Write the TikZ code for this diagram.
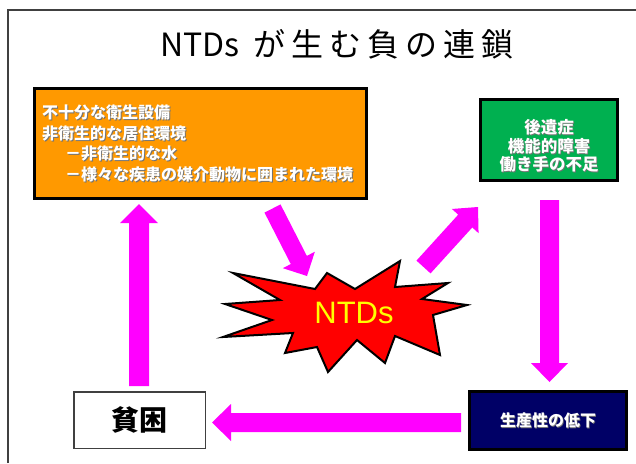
\documentclass[tikz,border=0pt]{standalone}
\usepackage{fontspec}
\newfontfamily\jp{Noto Sans CJK JP}
\newfontfamily\arialfont{Liberation Sans}
\usetikzlibrary{calc}
\definecolor{ppOrange}{HTML}{FF9900}
\definecolor{ppGreen}{HTML}{00B050}
\definecolor{ppNavy}{HTML}{000066}
\definecolor{ppMagenta}{HTML}{FF00FF}
\definecolor{ppRed}{HTML}{FF0000}
\definecolor{ppYellow}{HTML}{FFFF00}
\definecolor{ppFrame}{HTML}{404040}
\newcommand\shtxt[1]{\leavevmode\rlap{\kern0.9pt\raisebox{-0.9pt}{\color{black!55}#1}}#1}
\newcommand\blockarrow[5]{%
  \coordinate (hb) at ($(#2)!#5!(#1)$);
  \fill[arrowfill] ($(#1)!#3!90:(#2)$) -- ($(hb)!#3!90:(#2)$) -- ($(hb)!#4!90:(#2)$) -- (#2)
     -- ($(hb)!#4!-90:(#2)$) -- ($(hb)!#3!-90:(#2)$) -- ($(#1)!#3!-90:(#2)$) -- cycle;
}
\begin{document}
\begin{tikzpicture}[x=1pt,y=-1pt,
  arrowfill/.style={fill=ppMagenta},
  boxline/.style={draw=black,line width=3pt},
  whitetext/.style={text=white,inner sep=0pt,font=\jp\bfseries\fontsize{16}{20.7}\selectfont},
]
\useasboundingbox (0,0) rectangle (636,463);
% frame
\draw[ppFrame,line width=2pt] (7.5,463) -- (7.5,9.5) -- (636,9.5);
% title
\node[inner sep=0pt,font=\jp\fontsize{32}{32}\selectfont] (title) at (337,44)
  {NTDs\hspace{14pt}が\kern6pt 生\kern6pt む\kern6pt 負\kern6pt の\kern6pt 連\kern6pt 鎖};
% boxes
\node[boxline,fill=ppOrange,minimum width=332pt,minimum height=110pt,inner sep=0pt] (causes) at (200.5,143.5) {};
\node[whitetext,anchor=west,align=left] (causesText) at (42,144)
  {\shtxt{不十分な衛生設備}\\\shtxt{非衛生的な居住環境}\\\hspace*{23pt}\shtxt{－非衛生的な水}\\\hspace*{23pt}\shtxt{－様々な疾患の媒介動物に囲まれた環境}};
\node[boxline,fill=ppGreen,minimum width=137pt,minimum height=81pt,inner sep=0pt] (effects) at (549,140) {};
\node[whitetext,align=center,font=\jp\bfseries\fontsize{16.5}{18.5}\selectfont] (effectsText) at (549,146.5)
  {\shtxt{後遺症}\\\shtxt{機能的障害}\\\shtxt{働き手の不足}};
\node[boxline,fill=ppNavy,minimum width=157pt,minimum height=58pt,inner sep=0pt,whitetext] (prod) at (548,420.5) {\shtxt{生産性の低下}};
\node[draw=ppFrame,line width=1.5pt,fill=white,minimum width=131.5pt,minimum height=56.5pt,inner sep=0pt,
  font=\jp\bfseries\fontsize{28}{28}\selectfont] (poverty) at (139.5,420) {貧困};
% star
\filldraw[fill=ppRed,draw=black,line width=2pt,line join=miter]
  (233,273) -- (315,289) -- (327,273) -- (355,289) -- (400,261) -- (395,287) -- (448,283)
  -- (422,299) -- (467,305) -- (433,315) -- (440,355) -- (395,336) -- (385,363) -- (357,340)
  -- (328,372) -- (317,347) -- (285,353) -- (293,333) -- (223,337) -- (272,320) -- (225,304)
  -- (280,300) -- cycle;
\node[text=ppYellow,font=\arialfont\fontsize{31}{31}\selectfont,inner sep=0pt] (ntds) at (354,313) {NTDs};
% arrows
\coordinate (a1s) at (139,386); \coordinate (a1e) at (139,204);
\blockarrow{a1s}{a1e}{10pt}{19pt}{19pt}
\coordinate (a2s) at (549.5,200); \coordinate (a2e) at (549.5,382);
\blockarrow{a2s}{a2e}{9.5pt}{18.5pt}{19pt}
\coordinate (a3s) at (461,422.5); \coordinate (a3e) at (212,422.5);
\blockarrow{a3s}{a3e}{9.5pt}{18.5pt}{19pt}
\coordinate (a4s) at (272.5,208.5); \coordinate (a4e) at (307,276);
\blockarrow{a4s}{a4e}{9pt}{18pt}{18pt}
\coordinate (a5s) at (423.5,267); \coordinate (a5e) at (478,207);
\blockarrow{a5s}{a5e}{9.5pt}{18pt}{19pt}
\end{tikzpicture}
\end{document}
